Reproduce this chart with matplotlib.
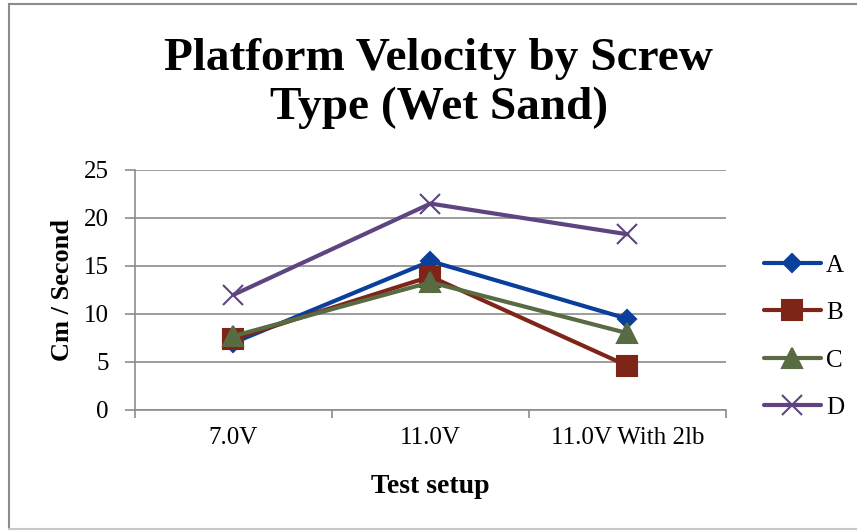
import matplotlib
matplotlib.use('Agg')
import matplotlib.pyplot as plt
from matplotlib.lines import Line2D

# data
categories = ['7.0V', '11.0V', '11.0V With 2lb']
series_names = ['A', 'B', 'C', 'D']
a_vals = [7.0, 15.5, 9.5]
b_vals = [7.4, 13.9, 4.6]
c_vals = [7.7, 13.3, 8.0]
d_vals = [12.0, 21.5, 18.3]

colors = ['#0A3F9C', '#7E2518', '#596B43', '#5E4580']
markers = ['D', 's', '^', 'x']
msizes = [9, 14, 14, 14]

plt.rcParams['font.family'] = ['Liberation Serif', 'DejaVu Serif']

fig = plt.figure(figsize=(8.57, 5.31), dpi=100)
ax = fig.add_axes([0.1575, 0.2279, 0.6896, 0.4520])

x = list(range(len(categories)))
for name, vals, col, mk, ms in zip(series_names, [a_vals, b_vals, c_vals, d_vals],
                                   colors, markers, msizes):
    ax.plot(x, vals, color=col, lw=3, marker=mk, markersize=ms,
            markeredgewidth=1.5, label=name,
            solid_capstyle='round', solid_joinstyle='round')

ax.set_xlim(-0.5, 2.5)
ax.set_ylim(0, 25)
ax.set_yticks(range(0, 26, 5))
ax.yaxis.grid(True, color='#8c8c8c', lw=1.2)
ax.set_axisbelow(True)

ax.set_xticks(x)
ax.set_xticklabels(categories)
ax.set_xticks([-0.5, 0.5, 1.5, 2.5], minor=True)
ax.tick_params(axis='x', which='major', length=0, pad=12, labelsize=18)
ax.tick_params(axis='x', which='minor', length=6, color='#8c8c8c', width=1.2)
ax.tick_params(axis='y', length=7, color='#8c8c8c', width=1.2, pad=12, labelsize=18)

for s in ['top', 'right']:
    ax.spines[s].set_visible(False)
for s in ['left', 'bottom']:
    ax.spines[s].set_color('#8c8c8c')
    ax.spines[s].set_linewidth(1.2)

ax.set_xlabel('Test setup', fontsize=20, fontweight='bold', labelpad=18)
ax.set_ylabel('Cm / Second', fontsize=19, fontweight='bold', labelpad=7)

fig.text(0.512, 0.842, 'Platform Velocity by Screw\nType (Wet Sand)', ha='center',
         va='center', fontsize=34, fontweight='bold', linespacing=1.2)

fig.legend(loc='center left', bbox_to_anchor=(0.891, 0.366), frameon=False,
           fontsize=18, handlelength=2.3, handletextpad=0.2, labelspacing=1.0,
           borderpad=0, borderaxespad=0)

# chart area border (left, top, bottom visible in the reference)
fig.add_artist(Line2D([9 / 857, 9 / 857], [1 - 4 / 531, 2 / 531], transform=fig.transFigure,
                      color='#8c8c8c', lw=1.5))
fig.add_artist(Line2D([9 / 857, 1], [1 - 4 / 531, 1 - 4 / 531], transform=fig.transFigure,
                      color='#8c8c8c', lw=1.5))
fig.add_artist(Line2D([9 / 857, 1], [2 / 531, 2 / 531], transform=fig.transFigure,
                      color='#c8c8c8', lw=1.5))

fig.savefig('out.png', dpi=100)
